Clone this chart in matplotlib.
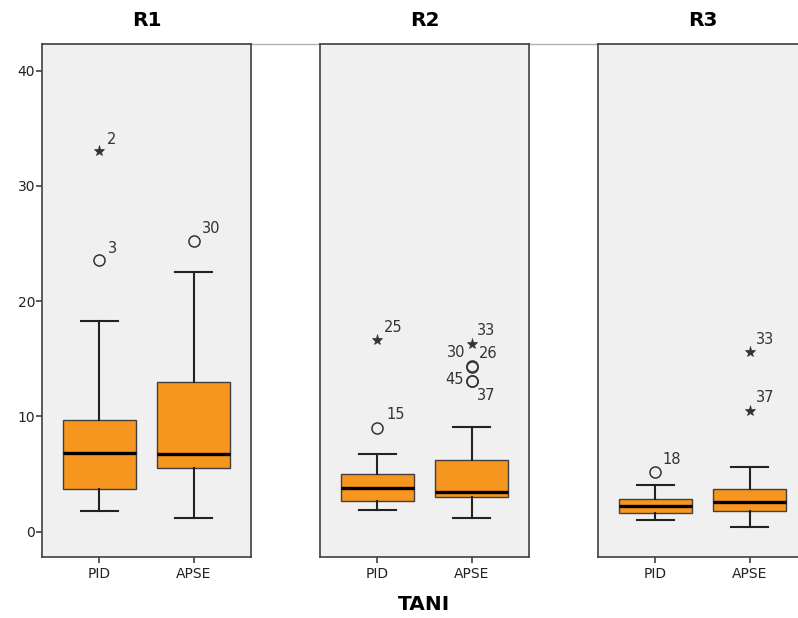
import matplotlib
matplotlib.use("Agg")
import matplotlib.pyplot as plt
from matplotlib.lines import Line2D

ORANGE, PANEL, EDGE, INK = "#F7961F", "#F0F0F0", "#404040", "#222222"

groups = ["R1", "R2", "R3"]
methods = ["PID", "APSE"]

# five-number summaries, [group][method]
whislo = [[1.8, 1.2], [1.85, 1.2], [1.05, 0.4]]
q1 = [[3.7, 5.5], [2.7, 3.0], [1.6, 1.75]]
med = [[6.8, 6.7], [3.75, 3.4], [2.2, 2.55]]
q3 = [[9.7, 13.0], [5.0, 6.2], [2.8, 3.7]]
whishi = [[18.3, 22.5], [6.75, 9.05], [4.05, 5.6]]

# outliers: group index, method index, value, kind, case id
out_group = [0, 0, 0, 1, 1, 1, 1, 1, 1, 1, 2, 2, 2]
out_method = [0, 0, 1, 0, 0, 1, 1, 1, 1, 1, 0, 1, 1]
out_value = [33.0, 23.6, 25.2, 16.6, 9.0, 16.3, 14.4, 14.25, 13.1, 13.1, 5.15, 15.55, 10.5]
out_kind = ["*", "o", "o", "*", "o", "*", "o", "o", "o", "o", "o", "*", "*"]
out_id = ["2", "3", "30", "25", "15", "33", "30", "26", "45", "37", "18", "33", "37"]

# label placement in points relative to marker (dx, dy, ha)
label_pos = [(5.5, 8.5, "left"), (6, 8, "left"), (6, 9.4, "left"), (4.3, 9.4, "left"),
             (6.5, 9.4, "left"), (3.6, 9.4, "left"), (-4.5, 9.4, "right"),
             (5, 10, "left"), (-5.5, 0.7, "right"), (4, -10.8, "left"),
             (5, 9.4, "left"), (4.3, 9.4, "left"), (4.3, 9.4, "left")]

fig = plt.figure(figsize=(7.98, 6.18), dpi=100)
fig.patch.set_facecolor("white")

W, H = 798, 618
lefts = [42, 320, 598]
pw, top, bottom = 209, 44, 557

fig.add_artist(Line2D([42 / W, 1], [1 - top / H, 1 - top / H], color="#B0B0B0",
                      linewidth=1, zorder=0))

for g, name in enumerate(groups):
    ax = fig.add_axes([lefts[g] / W, 1 - bottom / H, pw / W, (bottom - top) / H])
    ax.set_facecolor(PANEL)
    stats = []
    for m, meth in enumerate(methods):
        stats.append(dict(label=meth, whislo=whislo[g][m], q1=q1[g][m], med=med[g][m],
                          q3=q3[g][m], whishi=whishi[g][m], fliers=[]))
    ax.bxp(stats, positions=[1, 2], widths=0.78, capwidths=0.39, patch_artist=True,
           showfliers=False,
           boxprops=dict(facecolor=ORANGE, edgecolor=EDGE, linewidth=1.0),
           medianprops=dict(color="black", linewidth=2.4, solid_capstyle="butt"),
           whiskerprops=dict(color=INK, linewidth=1.5),
           capprops=dict(color=INK, linewidth=1.5))

    for i in range(len(out_value)):
        if out_group[i] != g:
            continue
        x = out_method[i] + 1
        y = out_value[i]
        if out_kind[i] == "o":
            ax.plot(x, y, marker="o", markersize=8, markerfacecolor="none",
                    markeredgecolor="#333333", markeredgewidth=1.1, zorder=4)
        else:
            ax.plot(x, y, marker="*", markersize=8, color="#333333",
                    markeredgewidth=0.5, zorder=4)
        dx, dy, ha = label_pos[i]
        ax.annotate(out_id[i], (x, y), textcoords="offset points", xytext=(dx, dy),
                    ha=ha, va="center", fontsize=10.5, color="#333333")

    ax.set_xlim(0.39, 2.61)
    ax.set_ylim(-2.2, 42.3)
    for s in ax.spines.values():
        s.set_color(EDGE)
        s.set_linewidth(1.2)
    ax.tick_params(axis="x", length=4, width=1.2, color=EDGE, labelsize=10,
                   labelcolor=INK, pad=3)
    if g == 0:
        ax.set_yticks([0, 10, 20, 30, 40])
        ax.tick_params(axis="y", length=4, width=1.2, color=EDGE, labelsize=10,
                       labelcolor=INK, pad=1)
    else:
        ax.set_yticks([])
    ax.set_title(name, fontsize=14.5, fontweight="bold", pad=13)

fig.text((320 + pw / 2) / W, 1 - 605 / H, "TANI", ha="center", va="center",
         fontsize=14.5, fontweight="bold")

fig.savefig("out.png", dpi=100)
